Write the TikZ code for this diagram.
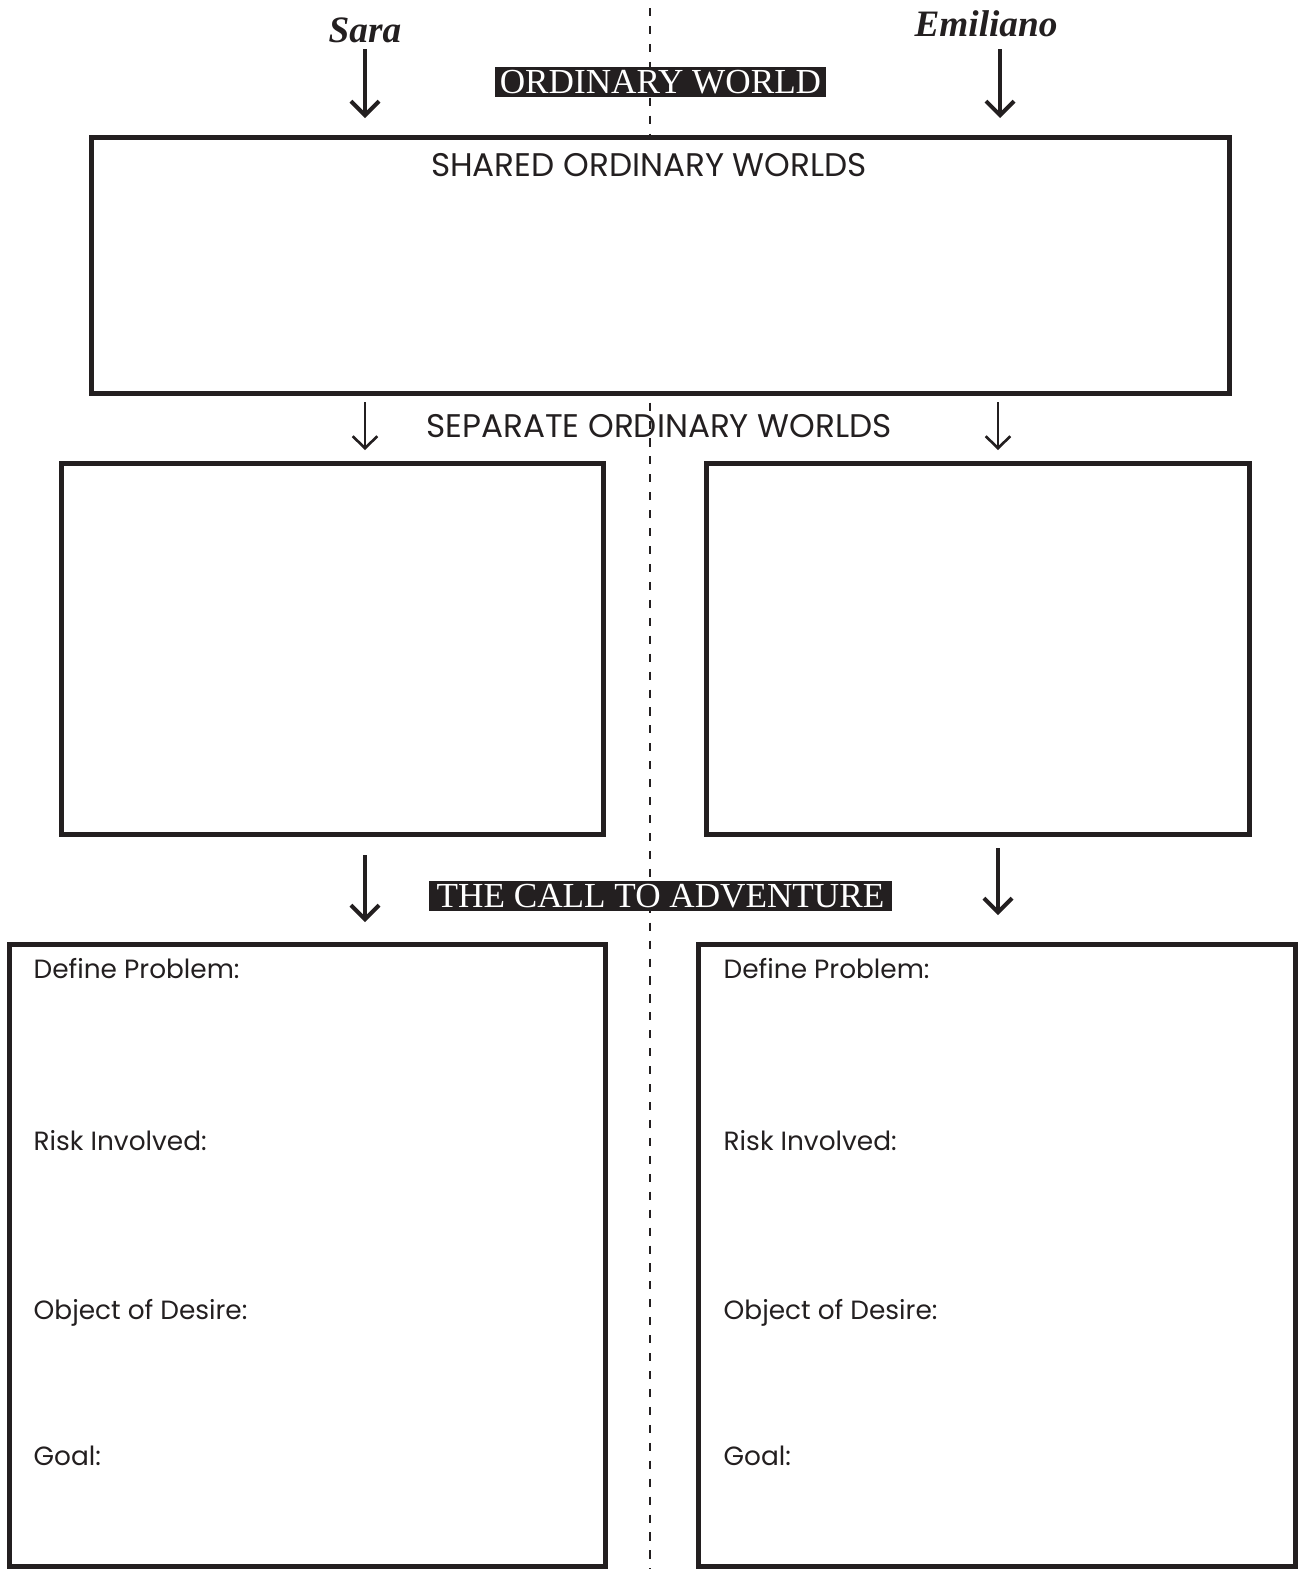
\documentclass[tikz,border=0pt]{standalone}
\usepackage{fontspec}
\usepackage{tikz}
\usetikzlibrary{arrows.meta}
\newfontfamily\gothicfont{Poppins}
\newfontfamily\bookfont{Liberation Serif}
\definecolor{ink}{HTML}{231F20}
\definecolor{paper}{HTML}{FFFFFF}
\tikzset{%
    >={Straight Barb[length=4pt,width=8pt]},
    panel/.style={draw=ink, line width=1.4pt, inner sep=0pt},
    banner/.style={fill=ink, text=paper, inner sep=0pt, font=\bookfont\fontsize{10}{10}\selectfont},
    hero/.style={text=ink, font=\bookfont\bfseries\itshape\fontsize{10.6}{12}\selectfont},
    heading/.style={text=ink, font=\gothicfont\fontsize{9.3}{11}\selectfont},
    prompt/.style={anchor=west, text=ink, inner sep=0pt, font=\gothicfont\fontsize{7.5}{10}\selectfont},
    heavy/.style={->, draw=ink, line width=1.15pt},
    light/.style={-{Straight Barb[length=3.4pt,width=7pt]}, draw=ink, line width=0.75pt}
}

\begin{document}
\begin{tikzpicture}[x=0.01cm, y=-0.01cm]
        \useasboundingbox (0,0) rectangle (1298,1569);
        \draw[ink, line width=0.6pt, dash pattern=on 2.3pt off 2.8pt] (650,8) -- (650,1569);

        % who and where
        \node[hero] (sara) at (365,30) {Sara};
        \node[hero] (emiliano) at (986,24) {Emiliano};
        \node[banner, minimum width=3.31cm, minimum height=0.30cm] (ordinary) at (660.5,82) {ORDINARY WORLD};

        \coordinate (saraTop) at (365,49);
        \coordinate (saraDown) at (365,118);
        \coordinate (emiTop) at (1000,49);
        \coordinate (emiDown) at (1000,118);
        \draw[heavy] (saraTop) -- (saraDown);
        \draw[heavy] (emiTop) -- (emiDown);

        % shared world
        \node[panel, fill=paper, minimum width=11.37cm, minimum height=2.55cm] (shared) at (660.5,265.5) {};
        \node[heading] (sharedTitle) at (649,165) {SHARED ORDINARY WORLDS};

        % separate worlds
        \node[heading] (sepTitle) at (659,426) {SEPARATE ORDINARY WORLDS};
        \coordinate (saraSepA) at (365,402);
        \coordinate (saraSepB) at (365,450);
        \coordinate (emiSepA) at (998,402);
        \coordinate (emiSepB) at (998,450);
        \draw[light] (saraSepA) -- (saraSepB);
        \draw[light] (emiSepA) -- (emiSepB);
        \node[panel, minimum width=5.41cm, minimum height=3.70cm] (saraSep) at (332.5,649) {};
        \node[panel, minimum width=5.42cm, minimum height=3.70cm] (emiSep) at (978,649) {};

        % the call
        \node[banner, minimum width=4.63cm, minimum height=0.30cm] (call) at (660.5,896) {THE CALL TO ADVENTURE};
        \coordinate (saraCallA) at (365,855);
        \coordinate (saraCallB) at (365,922);
        \coordinate (emiCallA) at (998,848);
        \coordinate (emiCallB) at (998,915);
        \draw[heavy] (saraCallA) -- (saraCallB);
        \draw[heavy] (emiCallA) -- (emiCallB);
        \node[panel, minimum width=5.95cm, minimum height=6.21cm] (saraCall) at (307.5,1255.5) {};
        \node[panel, minimum width=5.96cm, minimum height=6.21cm] (emiCall) at (997,1255.5) {};

        \node[prompt] (saraProblem) at (33,969) {Define Problem:};
        \node[prompt] (saraRisk) at (33,1141) {Risk Involved:};
        \node[prompt] (saraDesire) at (33,1313) {Object of Desire:};
        \node[prompt] (saraGoal) at (33,1456) {Goal:};

        \node[prompt] (emiProblem) at (723,969) {Define Problem:};
        \node[prompt] (emiRisk) at (723,1141) {Risk Involved:};
        \node[prompt] (emiDesire) at (723,1313) {Object of Desire:};
        \node[prompt] (emiGoal) at (723,1456) {Goal:};
    \end{tikzpicture}
\end{document}
